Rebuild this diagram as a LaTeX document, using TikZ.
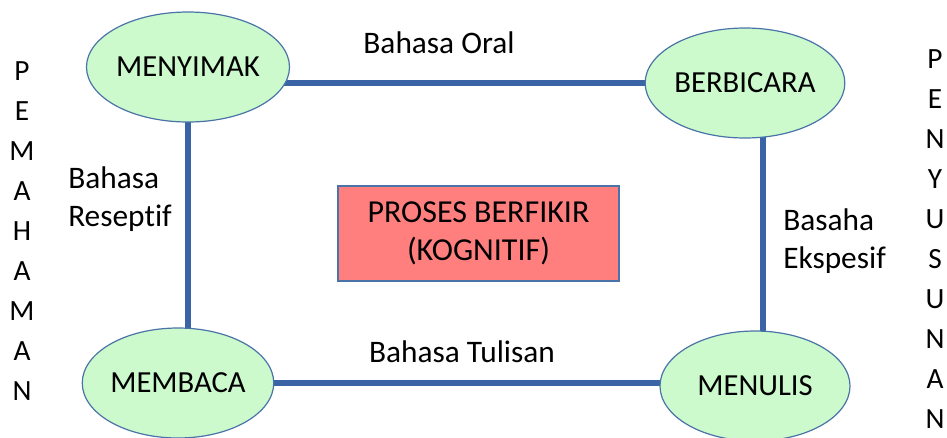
\documentclass[tikz,border=0pt]{standalone}
\usepackage{fontspec}
\setmainfont{Carlito}[Ligatures={NoCommon}]
\usetikzlibrary{shapes.geometric,backgrounds}
\definecolor{linkblue}{HTML}{3B64A6}
\definecolor{rimblue}{HTML}{4A74A8}
\definecolor{skillgreen}{HTML}{CCFACC}
\definecolor{thinkred}{HTML}{FF7F7F}
\tikzset{
  skill/.style={ellipse, draw=rimblue, line width=0.9pt, fill=skillgreen,
    minimum width=142.5pt, minimum height=82.5pt, inner sep=0pt,
    font=\fontsize{23}{27}\selectfont},
  thinkbox/.style={rectangle, draw=rimblue, line width=0.8pt, fill=thinkred,
    minimum width=210.75pt, minimum height=71.25pt, inner sep=0pt, align=center,
    font=\fontsize{24}{28.5}\selectfont},
  link/.style={draw=linkblue, line width=3.8pt},
  lbl/.style={inner sep=0pt, font=\fontsize{23.5}{28.5}\selectfont},
  column/.style={inner sep=0pt, align=center, font=\fontsize{22}{30}\selectfont}
}
\begin{document}
\begin{tikzpicture}[x=0.75pt, y=-0.75pt]
\useasboundingbox (0,0) rectangle (947,437);
\clip (0,0) rectangle (947,437);
\node[skill] (menyimak) at (188,67) {MENYIMAK};
\node[skill] (berbicara) at (745,83) {BERBICARA};
\node[skill] (membaca) at (178,383) {MEMBACA};
\node[skill] (menulis) at (755,386) {MENULIS};
\node[thinkbox] (proses) at (478.5,233.5) {PROSES BERFIKIR\\(KOGNITIF)};
\begin{scope}[on background layer]
  \draw[link] (menyimak.center |- berbicara.center) -- (berbicara.center);
  \draw[link] (menyimak.center) -- (menyimak.center |- membaca.center);
  \draw[link] (membaca.center) -- (membaca.center -| menulis.center);
  \draw[link] ([xshift=13.5pt]berbicara.center) -- ([xshift=13.5pt]berbicara.center |- menulis.center);
\end{scope}
\node[lbl] (oral) at (439,43) {Bahasa Oral};
\node[lbl] (tulisan) at (462,352) {Bahasa Tulisan};
\node[lbl, align=left, anchor=west] (reseptif) at (68,199) {Bahasa\\Reseptif};
\node[lbl, align=left, anchor=west] (ekspesif) at (783,241) {Basaha\\Ekspesif};
\node[column] (pemahaman) at (22,231) {P\\E\\M\\A\\H\\A\\M\\A\\N};
\node[column] (penyusunan) at (935,239.5) {P\\E\\N\\Y\\U\\S\\U\\N\\A\\N};
\end{tikzpicture}
\end{document}
